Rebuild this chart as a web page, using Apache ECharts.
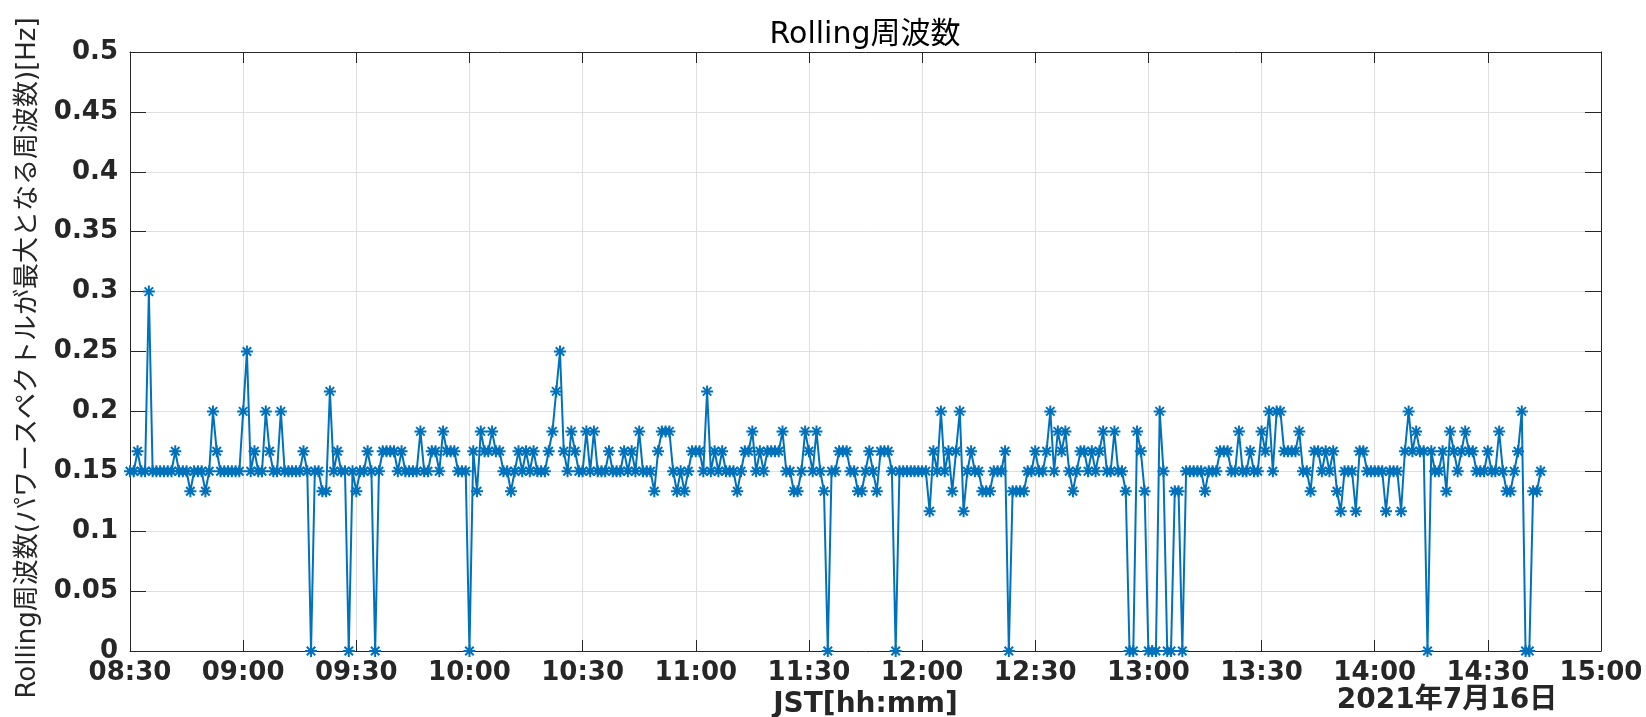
<!DOCTYPE html>
<html>
<head>
<meta charset="utf-8">
<script src="https://cdn.jsdelivr.net/npm/echarts@6/dist/echarts.min.js"></script>
<style>html,body{margin:0;padding:0;background:#fff}#c{width:1646px;height:717px}</style>
</head>
<body>
<div id="c"></div>
<script>
// Sampling: one value per minute starting 08:30 (minute-of-day 510)
const startMinute = 510;
const stepMinutes = 1;

const vals0830 = [
0.15,0.15,0.1667,0.15,0.15,0.3,0.15,0.15,0.15,0.15,
0.15,0.15,0.1667,0.15,0.15,0.15,0.1333,0.15,0.15,0.15,
0.1333,0.15,0.2,0.1667,0.15,0.15,0.15,0.15,0.15,0.15,
0.2,0.25,0.15,0.1667,0.15,0.15,0.2,0.1667,0.15,0.15,
0.2,0.15,0.15,0.15,0.15,0.15,0.1667,0.15,0,0.15,
0.15,0.1333,0.1333,0.2167,0.15,0.1667,0.15,0.15,0,0.15];
const vals0930 = [
0.1333,0.15,0.15,0.1667,0.15,0,0.15,0.1667,0.1667,0.1667,
0.1667,0.15,0.1667,0.15,0.15,0.15,0.15,0.1833,0.15,0.15,
0.1667,0.1667,0.15,0.1833,0.1667,0.1667,0.1667,0.15,0.15,0.15,
0,0.1667,0.1333,0.1833,0.1667,0.1667,0.1833,0.1667,0.1667,0.15,
0.15,0.1333,0.15,0.1667,0.15,0.1667,0.15,0.1667,0.15,0.15,
0.15,0.1667,0.1833,0.2167,0.25,0.1667,0.15,0.1833,0.1667,0.15];
const vals1030 = [
0.15,0.1833,0.15,0.1833,0.15,0.15,0.15,0.1667,0.15,0.15,
0.15,0.1667,0.15,0.1667,0.15,0.1833,0.15,0.15,0.15,0.1333,
0.1667,0.1833,0.1833,0.1833,0.15,0.1333,0.15,0.1333,0.15,0.1667,
0.1667,0.1667,0.15,0.2167,0.15,0.1667,0.15,0.1667,0.15,0.15,
0.15,0.1333,0.15,0.1667,0.1667,0.1833,0.15,0.1667,0.15,0.1667,
0.1667,0.1667,0.1667,0.1833,0.15,0.15,0.1333,0.1333,0.15,0.1833];
const vals1130 = [
0.1667,0.15,0.1833,0.15,0.1333,0,0.15,0.15,0.1667,0.1667,
0.1667,0.15,0.15,0.1333,0.1333,0.15,0.1667,0.15,0.1333,0.1667,
0.1667,0.1667,0.15,0,0.15,0.15,0.15,0.15,0.15,0.15,
0.15,0.15,0.1167,0.1667,0.15,0.2,0.15,0.1667,0.1333,0.1667,
0.2,0.1167,0.15,0.1667,0.15,0.15,0.1333,0.1333,0.1333,0.15,
0.15,0.15,0.1667,0,0.1333,0.1333,0.1333,0.1333,0.15,0.15];
const vals1230 = [
0.1667,0.15,0.15,0.1667,0.2,0.15,0.1833,0.1667,0.1833,0.15,
0.1333,0.15,0.1667,0.1667,0.15,0.1667,0.15,0.1667,0.1833,0.15,
0.15,0.1833,0.15,0.15,0.1333,0,0,0.1833,0.1667,0.1333,
0,0,0,0.2,0.15,0,0,0.1333,0.1333,0,
0.15,0.15,0.15,0.15,0.15,0.1333,0.15,0.15,0.15,0.1667,
0.1667,0.1667,0.15,0.15,0.1833,0.15,0.15,0.1667,0.15,0.15];
const vals1330 = [
0.1833,0.1667,0.2,0.15,0.2,0.2,0.1667,0.1667,0.1667,0.1667,
0.1833,0.15,0.15,0.1333,0.1667,0.1667,0.15,0.1667,0.15,0.1667,
0.1333,0.1167,0.15,0.15,0.15,0.1167,0.1667,0.1667,0.15,0.15,
0.15,0.15,0.15,0.1167,0.15,0.15,0.15,0.1167,0.1667,0.2,
0.1667,0.1833,0.1667,0.1667,0,0.1667,0.15,0.15,0.1667,0.1333,
0.1833,0.1667,0.15,0.1667,0.1833,0.1667,0.1667,0.15,0.15,0.15];
const vals1430 = [
0.1667,0.15,0.15,0.1833,0.15,0.1333,0.1333,0.15,0.1667,0.2,0,0,0.1333,0.1333,0.15];

const xTickLabels = ['08:30','09:00','09:30','10:00','10:30','11:00','11:30','12:00','12:30','13:00','13:30','14:00','14:30','15:00'];
const yTickLabels = ['0','0.05','0.1','0.15','0.2','0.25','0.3','0.35','0.4','0.45','0.5'];

const titleText = 'Rolling周波数';
const yName = 'Rolling周波数(パワースペクトルが最大となる周波数)[Hz]';
const xName = 'JST[hh:mm]';
const dateText = '2021年7月16日';

const allVals = [].concat(vals0830, vals0930, vals1030, vals1130, vals1230, vals1330, vals1430);
const seriesData = allVals.map((v, i) => [startMinute + i * stepMinutes, v]);

const FONT = "'DejaVu Sans', 'Noto Sans CJK JP', sans-serif";
const AX = '#262626';
const BLUE = '#0072BD';

const chart = echarts.init(document.getElementById('c'), null, {renderer: 'canvas'});
const xCommon = {type: 'value', min: 510, max: 900, interval: 30};
const yCommon = {type: 'value', min: 0, max: 0.5, interval: 0.05};
chart.setOption({
  animation: false,
  backgroundColor: '#fff',
  grid: {left: 130, right: 45, top: 52, bottom: 66, containLabel: false, outerBoundsMode: 'none'},
  xAxis: [
    Object.assign({}, xCommon, {
      position: 'bottom',
      axisLine: {show: true, onZero: false, lineStyle: {color: AX, width: 1}},
      axisTick: {show: true, inside: true, length: 11, lineStyle: {color: AX, width: 1}},
      axisLabel: {margin: 9, color: AX, fontSize: 26, fontWeight: 'bold', fontFamily: FONT,
        formatter: v => xTickLabels[Math.round((v - 510) / 30)]},
      splitLine: {show: true, lineStyle: {color: '#dfdfdf', width: 1}},
      name: xName, nameLocation: 'middle', nameGap: 32,
      nameTextStyle: {color: AX, fontSize: 28, fontWeight: 'bold', fontFamily: FONT}
    }),
    Object.assign({}, xCommon, {
      position: 'top',
      axisLine: {show: true, onZero: false, lineStyle: {color: AX, width: 1}},
      axisTick: {show: true, inside: true, length: 11, lineStyle: {color: AX, width: 1}},
      axisLabel: {show: false},
      splitLine: {show: false}
    })
  ],
  yAxis: [
    Object.assign({}, yCommon, {
      position: 'left',
      axisLine: {show: true, onZero: false, lineStyle: {color: AX, width: 1}},
      axisTick: {show: true, inside: true, length: 16, lineStyle: {color: AX, width: 1}},
      axisLabel: {margin: 12, color: AX, fontSize: 26, fontWeight: 'bold', fontFamily: FONT,
        formatter: v => yTickLabels[Math.round(v / 0.05)]},
      splitLine: {show: true, lineStyle: {color: '#dfdfdf', width: 1}}
    }),
    Object.assign({}, yCommon, {
      position: 'right',
      axisLine: {show: true, onZero: false, lineStyle: {color: AX, width: 1}},
      axisTick: {show: true, inside: true, length: 16, lineStyle: {color: AX, width: 1}},
      axisLabel: {show: false},
      splitLine: {show: false}
    })
  ],
  graphic: [
    {type: 'text', x: 865, y: 35, silent: true,
     style: {text: titleText, fill: '#000', font: '30px ' + FONT, textAlign: 'center', textVerticalAlign: 'middle'}},
    {type: 'text', x: 28, y: 358, rotation: Math.PI / 2, silent: true,
     style: {text: yName, fill: AX, font: '26px ' + FONT, textAlign: 'center', textVerticalAlign: 'middle'}},
    {type: 'text', x: 1447, y: 701, silent: true,
     style: {text: dateText, fill: AX, font: 'bold 28px ' + FONT, textAlign: 'center', textVerticalAlign: 'middle'}}
  ],
  series: [{
    type: 'line',
    xAxisIndex: 0, yAxisIndex: 0,
    data: seriesData,
    symbol: 'path://M5,0L5,10M0,5L10,5M1.46,1.46L8.54,8.54M1.46,8.54L8.54,1.46',
    symbolSize: 12,
    showAllSymbol: true,
    clip: false,
    lineStyle: {color: BLUE, width: 2},
    itemStyle: {color: 'rgba(0,0,0,0)', borderColor: BLUE, borderWidth: 2},
    emphasis: {disabled: true}
  }]
});
</script>
</body>
</html>
